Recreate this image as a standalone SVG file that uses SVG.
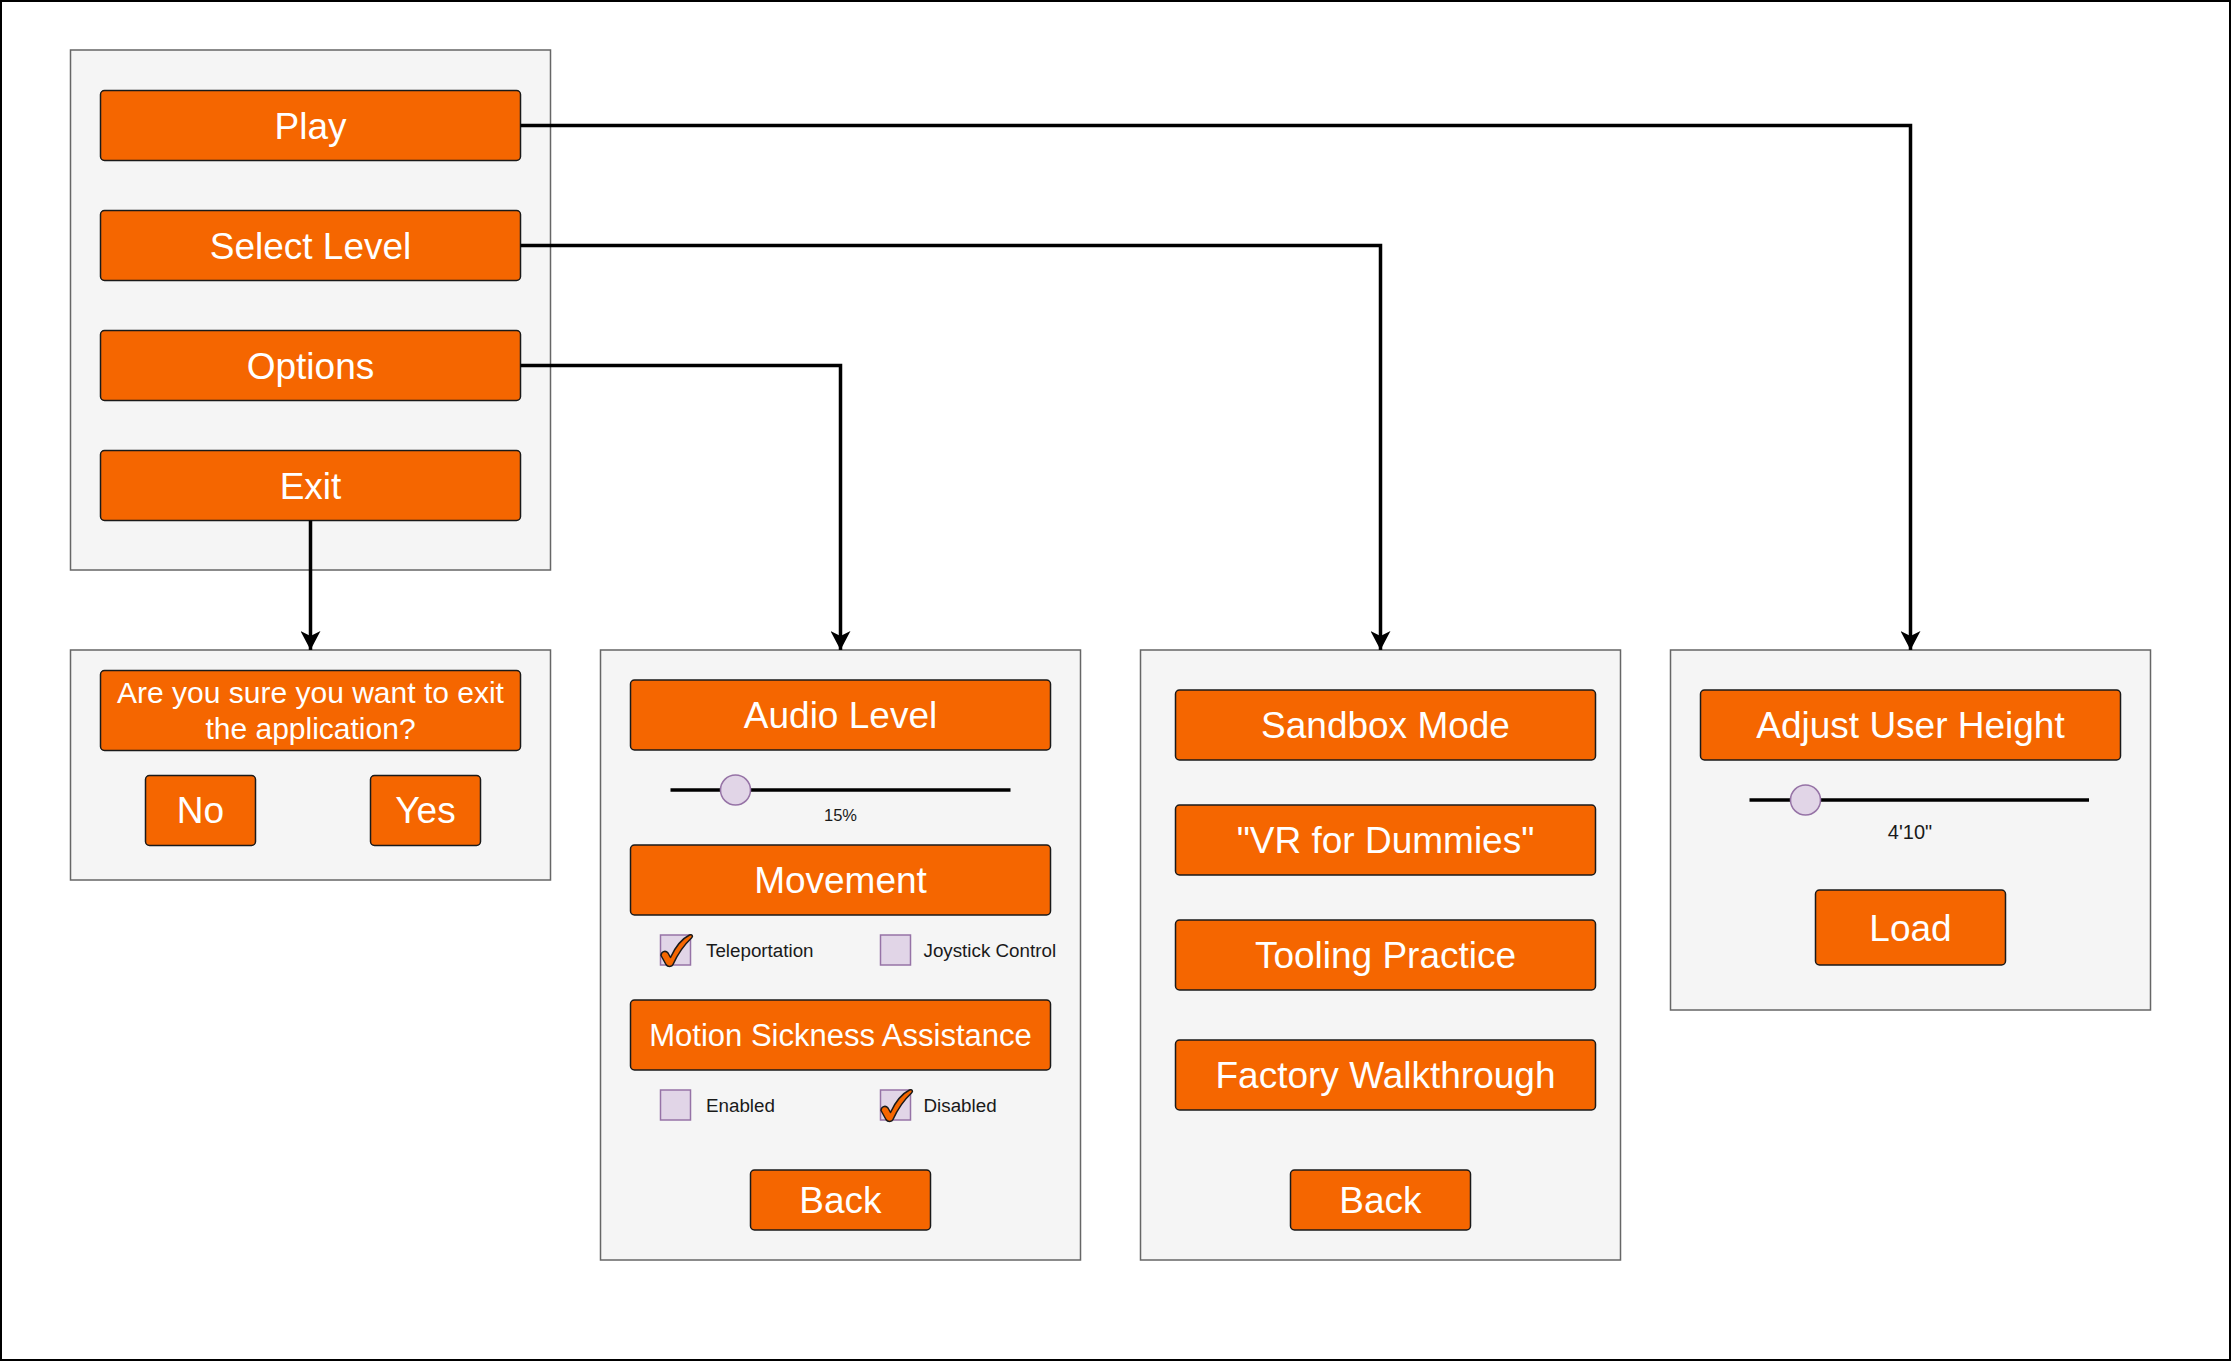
<svg xmlns="http://www.w3.org/2000/svg" width="2231" height="1361" viewBox="0 0 2231 1361">
<defs>
<style>
.frame{fill:#ffffff;stroke:#000000;stroke-width:2}
.panel{fill:#f5f5f5;stroke:#666666;stroke-width:1.5}
.btn{fill:#F56600;stroke:#1a1a1a;stroke-width:1.5}
.bt{font-family:"Liberation Sans",Arial,sans-serif;fill:#ffffff;text-anchor:middle;font-size:37px}
.bt30{font-size:30px}
.bt31{font-size:31px}
.lbl{font-family:"Liberation Sans",Arial,sans-serif;fill:#1a1a1a;font-size:18.8px}
.val{font-family:"Liberation Sans",Arial,sans-serif;fill:#1a1a1a;text-anchor:middle}
.cb{fill:#e1d5e7;stroke:#9673a6;stroke-width:1.5}
.knob{fill:#e1d5e7;stroke:#9673a6;stroke-width:1.5}
.track{stroke:#000000;stroke-width:3.5;fill:none}
.check{fill:#F56600;stroke:#1a1a1a;stroke-width:1.5;stroke-linejoin:round}
.conn{fill:none;stroke:#000000;stroke-width:3.5}
</style>
<marker id="arrow" markerUnits="userSpaceOnUse" viewBox="0 0 19 20" refX="19" refY="10" markerWidth="19" markerHeight="20" orient="auto">
<path d="M0,0 L19,10 L0,20 L5,10 Z" fill="#000000"/>
</marker>
<path id="checkmark" d="M0.5,21 C0.5,17 5,15.5 7.5,18.5 L10,23 C15,12 22,4 29,0.5 C31.5,-0.5 33,1.5 31,3.5 C24,10 17,20 12.5,30 C11.5,32.5 7,32.5 5.5,30 Z"/>
</defs>
<rect class="frame" x="1" y="1" width="2229" height="1359"/>

<g id="main-menu">
<rect class="panel" x="70.5" y="50" width="480" height="520"/>
<g id="btn-play"><rect class="btn" x="100.5" y="90.5" width="420" height="70" rx="4"/><text class="bt" x="310.5" y="138.5">Play</text></g>
<g id="btn-select-level"><rect class="btn" x="100.5" y="210.5" width="420" height="70" rx="4"/><text class="bt" x="310.5" y="258.5">Select Level</text></g>
<g id="btn-options"><rect class="btn" x="100.5" y="330.5" width="420" height="70" rx="4"/><text class="bt" x="310.5" y="378.5">Options</text></g>
<g id="btn-exit"><rect class="btn" x="100.5" y="450.5" width="420" height="70" rx="4"/><text class="bt" x="310.5" y="498.5">Exit</text></g>
</g>

<g id="exit-dialog">
<rect class="panel" x="70.5" y="650" width="480" height="230"/>
<rect class="btn" x="100.5" y="670.5" width="420" height="80" rx="4"/>
<text class="bt bt30" x="310.5" y="703">Are you sure you want to exit</text>
<text class="bt bt30" x="310.5" y="739">the application?</text>
<g id="btn-no"><rect class="btn" x="145.5" y="775.5" width="110" height="70" rx="4"/><text class="bt" x="200.5" y="823">No</text></g>
<g id="btn-yes"><rect class="btn" x="370.5" y="775.5" width="110" height="70" rx="4"/><text class="bt" x="425.5" y="823">Yes</text></g>
</g>

<g id="options-menu">
<rect class="panel" x="600.5" y="650" width="480" height="610"/>
<g id="btn-audio"><rect class="btn" x="630.5" y="680" width="420" height="70" rx="4"/><text class="bt" x="840.5" y="728">Audio Level</text></g>
<g id="audio-slider">
<line class="track" x1="670.5" y1="790" x2="1010.5" y2="790"/>
<circle class="knob" cx="735.5" cy="790" r="15"/>
<text class="val" x="840.5" y="821" font-size="16.5">15%</text>
</g>
<g id="btn-movement"><rect class="btn" x="630.5" y="845" width="420" height="70" rx="4"/><text class="bt" x="840.5" y="893">Movement</text></g>
<g id="opt-teleport">
<rect class="cb" x="660.5" y="935" width="30" height="30"/>
<use href="#checkmark" class="check" x="660.5" y="934.5"/>
<text class="lbl" x="706" y="957">Teleportation</text>
</g>
<g id="opt-joystick">
<rect class="cb" x="880.5" y="935" width="30" height="30"/>
<text class="lbl" x="923.5" y="957">Joystick Control</text>
</g>
<g id="btn-motion"><rect class="btn" x="630.5" y="1000" width="420" height="70" rx="4"/><text class="bt bt31" x="840.5" y="1046">Motion Sickness Assistance</text></g>
<g id="opt-enabled">
<rect class="cb" x="660.5" y="1090" width="30" height="30"/>
<text class="lbl" x="706" y="1112">Enabled</text>
</g>
<g id="opt-disabled">
<rect class="cb" x="880.5" y="1090" width="30" height="30"/>
<use href="#checkmark" class="check" x="880.5" y="1089.5"/>
<text class="lbl" x="923.5" y="1112">Disabled</text>
</g>
<g id="btn-options-back"><rect class="btn" x="750.5" y="1170" width="180" height="60" rx="4"/><text class="bt" x="840.5" y="1213">Back</text></g>
</g>

<g id="level-menu">
<rect class="panel" x="1140.5" y="650" width="480" height="610"/>
<g id="btn-sandbox"><rect class="btn" x="1175.5" y="690" width="420" height="70" rx="4"/><text class="bt" x="1385.5" y="738">Sandbox Mode</text></g>
<g id="btn-vr"><rect class="btn" x="1175.5" y="805" width="420" height="70" rx="4"/><text class="bt" x="1385.5" y="853">"VR for Dummies"</text></g>
<g id="btn-tooling"><rect class="btn" x="1175.5" y="920" width="420" height="70" rx="4"/><text class="bt" x="1385.5" y="968">Tooling Practice</text></g>
<g id="btn-factory"><rect class="btn" x="1175.5" y="1040" width="420" height="70" rx="4"/><text class="bt" x="1385.5" y="1088">Factory Walkthrough</text></g>
<g id="btn-level-back"><rect class="btn" x="1290.5" y="1170" width="180" height="60" rx="4"/><text class="bt" x="1380.5" y="1213">Back</text></g>
</g>

<g id="play-menu">
<rect class="panel" x="1670.5" y="650" width="480" height="360"/>
<g id="btn-height"><rect class="btn" x="1700.5" y="690" width="420" height="70" rx="4"/><text class="bt" x="1910.5" y="738">Adjust User Height</text></g>
<g id="height-slider">
<line class="track" x1="1749.5" y1="800" x2="2089" y2="800"/>
<circle class="knob" cx="1805.5" cy="800" r="15"/>
<text class="val" x="1910" y="838.5" font-size="20">4'10"</text>
</g>
<g id="btn-load"><rect class="btn" x="1815.5" y="890" width="190" height="75" rx="4"/><text class="bt" x="1910.5" y="941">Load</text></g>
</g>

<g id="connectors">
<path class="conn" d="M520.5,125.5 H1910.5 V650" marker-end="url(#arrow)"/>
<path class="conn" d="M520.5,245.5 H1380.5 V650" marker-end="url(#arrow)"/>
<path class="conn" d="M520.5,365.5 H840.5 V650" marker-end="url(#arrow)"/>
<path class="conn" d="M310.5,520.5 V650" marker-end="url(#arrow)"/>
</g>
</svg>
